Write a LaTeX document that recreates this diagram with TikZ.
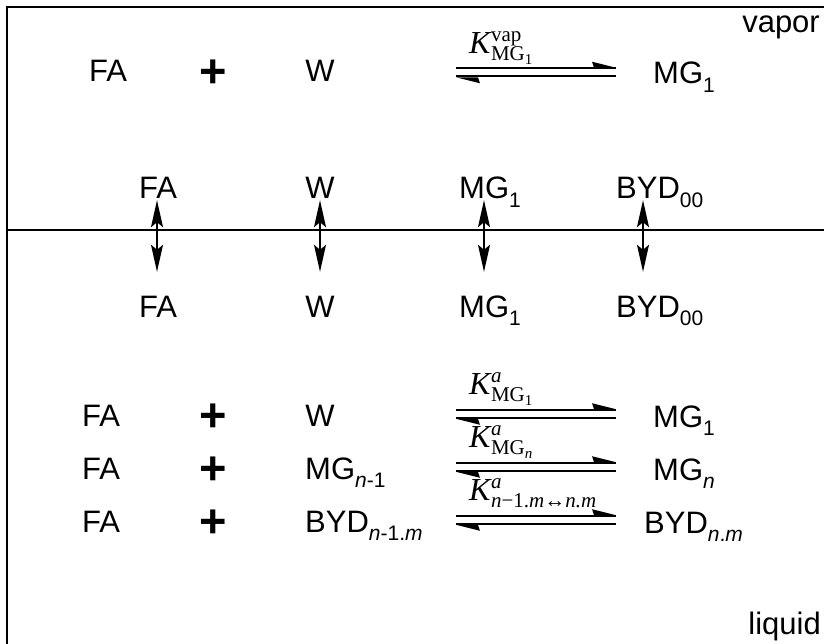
\documentclass[tikz,border=0pt]{standalone}
\usepackage{fontspec}
\setmainfont{Liberation Sans}
\newfontfamily\tms{Liberation Serif}
\usetikzlibrary{arrows.meta,calc}

% lowered sans subscript used in species names
\newcommand{\lsub}[1]{\raisebox{-0.28em}{\fontsize{21}{21}\selectfont #1}}
% rate-constant label: serif italic K with stacked superscript and subscript
\newcommand{\kconst}[2]{{\tms\fontsize{32}{36}\selectfont\itshape K}\kern0.5pt%
  \makebox[0pt][l]{\raisebox{12pt}{\tms\fontsize{21}{21}\selectfont #1}}%
  \raisebox{-7pt}{\tms\fontsize{21}{21}\selectfont #2}}
\newcommand{\kksub}[1]{\raisebox{-4pt}{\fontsize{15}{15}\selectfont #1}}
% equilibrium sign: two lines with opposite half arrows between two named points
\newcommand{\eqarr}[2]{%
  \draw[eqline] ($(#1)+(0,-4)$) -- ($(#2)+(0,-4)$);
  \fill ($(#2)+(0,-4.8)$) -- ++(-24,-6) -- ++(2,6) -- cycle;
  \draw[eqline] ($(#1)+(0,4)$) -- ($(#2)+(0,4)$);
  \fill ($(#1)+(0,4.8)$) -- ++(24,6) -- ++(-2,-6) -- cycle;}

\begin{document}
\begin{tikzpicture}[x=1pt,y=-1pt,
  txt/.style={font=\fontsize{31}{36}\selectfont, inner sep=0pt, anchor=base,
              text height=22pt, text depth=0pt},
  plus/.style={font=\fontsize{47}{47}\selectfont\bfseries, inner sep=0pt},
  klab/.style={inner sep=0pt, anchor=base west},
  phase/.style={font=\fontsize{31}{36}\selectfont, inner sep=0pt, anchor=base east},
  eqline/.style={line width=2pt},
  frameline/.style={line width=1.8pt},
  vert/.style={line width=1.7pt,
    {Stealth[length=27pt,width=12pt,inset=5pt]}-{Stealth[length=27pt,width=12pt,inset=5pt]}}]
\useasboundingbox (0,0) rectangle (824,644);

% box edges and the vapor/liquid interface
\draw[frameline] (7,650) -- (7,7) -- (830,7);
\draw[frameline] (7,230) -- (830,230);

\node[phase] (vapor) at (820,33) {vapor};
\node[phase] (liquid) at (821,634) {liquid};

% vapor-phase reaction
\node[txt] (fa1) at (108,82) {FA};
\node[plus] (p1) at (213,74) {+};
\node[txt] (w1) at (320,82) {W};
\coordinate (e1l) at (456,72.5);
\coordinate (e1r) at (616,72.5);
\eqarr{e1l}{e1r}
\node[klab] (k1) at (469,54) {\kconst{vap}{MG\kksub{1}}};
\node[txt, anchor=base west] (mg1) at (653,84) {MG\lsub{1}};

% species crossing the interface
\node[txt] (fa2) at (158,199) {FA};
\node[txt] (w2) at (320,199) {W};
\node[txt, anchor=base west] (mg2) at (459,199) {MG\lsub{1}};
\node[txt, anchor=base west] (byd2) at (616,199) {BYD\lsub{00}};

\node[txt] (fa3) at (158,317) {FA};
\node[txt] (w3) at (320,317) {W};
\node[txt, anchor=base west] (mg3) at (459,317) {MG\lsub{1}};
\node[txt, anchor=base west] (byd3) at (616,317) {BYD\lsub{00}};

\draw[vert] ([xshift=-1pt,yshift=-1pt]fa2.south) -- ([xshift=-1pt,yshift=23pt]fa3.north);
\draw[vert] ([yshift=-1pt]w2.south) -- ([yshift=23pt]w3.north);
\draw[vert] ([xshift=25pt,yshift=-1pt]mg2.south west) -- ([xshift=25pt,yshift=23pt]mg3.north west);
\draw[vert] ([xshift=27pt,yshift=-1pt]byd2.south west) -- ([xshift=27pt,yshift=23pt]byd3.north west);

% liquid-phase reactions
\node[txt] (fa4) at (101,426) {FA};
\node[plus] (p4) at (213,418) {+};
\node[txt] (w4) at (320,426) {W};
\coordinate (e4l) at (456,414);
\coordinate (e4r) at (616,414);
\eqarr{e4l}{e4r}
\node[klab] (k4) at (469,394) {\kconst{\itshape a}{MG\kksub{1}}};
\node[txt, anchor=base west] (mg4) at (653,427) {MG\lsub{1}};

\node[txt] (fa5) at (101,479) {FA};
\node[plus] (p5) at (213,471) {+};
\node[txt, anchor=base west] (mgn1) at (305,479) {MG\lsub{\textit{n}-1}};
\coordinate (e5l) at (456,467);
\coordinate (e5r) at (616,467);
\eqarr{e5l}{e5r}
\node[klab] (k5) at (469,447) {\kconst{\itshape a}{MG\kksub{\itshape n}}};
\node[txt, anchor=base west] (mgn) at (653,480) {MG\lsub{\textit{n}}};

\node[txt] (fa6) at (101,532) {FA};
\node[plus] (p6) at (213,524) {+};
\node[txt, anchor=base west] (bydn1) at (305,532) {BYD\lsub{\textit{n}-1.\textit{m}}};
\coordinate (e6l) at (456,520);
\coordinate (e6r) at (616,520);
\eqarr{e6l}{e6r}
\node[klab] (k6) at (469,500) {\kconst{\itshape a}{\itshape n\upshape −1.\itshape m\upshape ↔\itshape n.m}};
\node[txt, anchor=base west] (bydn) at (644,533) {BYD\lsub{\textit{n}.\textit{m}}};
\end{tikzpicture}
\end{document}
